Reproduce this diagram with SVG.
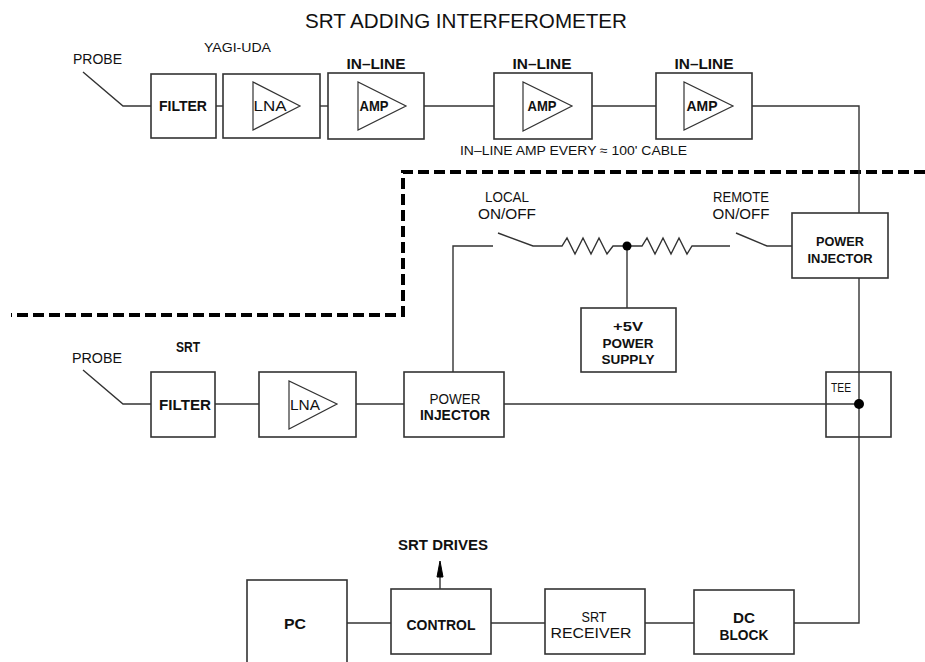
<svg xmlns="http://www.w3.org/2000/svg" width="925" height="662" viewBox="0 0 925 662">
<defs>
<style>
.box{fill:#fff;stroke:#333;stroke-width:1.6}
.ln{fill:none;stroke:#333;stroke-width:1.4}
.tri{fill:none;stroke:#333;stroke-width:1.2}
.t{font-family:"Liberation Sans",Arial,sans-serif;fill:#111}
.b{font-weight:bold}
.c{text-anchor:middle}
.dash{fill:none;stroke:#000;stroke-width:4;stroke-dasharray:11 5}
</style>
</defs>
<rect width="925" height="662" fill="#fff"/>
<g font-size="14">
<text class="t c" x="466" y="28" font-size="20" textLength="322" lengthAdjust="spacingAndGlyphs">SRT ADDING INTERFEROMETER</text>

<g id="dashed-boundary">
<path class="dash" d="M925,172 H403 V315 H11"/>
</g>

<g id="connectors">
<path class="ln" d="M83,72 L123,106 H151"/>
<path class="ln" d="M216,106 H223"/>
<path class="ln" d="M320,106 H328"/>
<path class="ln" d="M424,106 H494"/>
<path class="ln" d="M592,106 H656"/>
<path class="ln" d="M752,106 H859 V213"/>
<path class="ln" d="M859,278 V623 H794"/>
<path class="ln" d="M83,370 L123,404 H151"/>
<path class="ln" d="M215,404 H259"/>
<path class="ln" d="M356,404 H404"/>
<path class="ln" d="M504,404 H859"/>
<path class="ln" d="M453,372 V246 H493"/>
<path class="ln" d="M498,233 L533,246 H562 L567,238 L575,254 L583,238 L591,254 L599,238 L607,254 L613,246 H642 L647,238 L655,254 L663,238 L671,254 L679,238 L687,254 L692,246 H730"/>
<path class="ln" d="M736,233 L767,246 H792"/>
<path class="ln" d="M627,246 V308"/>
<circle cx="627" cy="246" r="4.5" fill="#000"/>
<circle cx="859" cy="404" r="5" fill="#000"/>
<path class="ln" d="M347,623 H391"/>
<path class="ln" d="M491,623 H545"/>
<path class="ln" d="M645,623 H694"/>
<path class="ln" d="M440,589 V575"/>
<path d="M440,561 L443,577 L437,577 Z" fill="#000" stroke="#000" stroke-width="1"/>
</g>

<g id="top-probe"><text class="t" x="73" y="64" textLength="49" lengthAdjust="spacingAndGlyphs">PROBE</text></g>
<g id="yagi-label"><text class="t" x="204" y="52" font-size="12.5" textLength="67" lengthAdjust="spacingAndGlyphs">YAGI-UDA</text></g>

<g id="top-filter"><rect class="box" x="151" y="74" width="65" height="64"/><text class="t b c" x="183" y="111" font-size="15" textLength="48" lengthAdjust="spacingAndGlyphs">FILTER</text></g>
<g id="top-lna"><rect class="box" x="223" y="74" width="97" height="64"/><path class="tri" d="M253,82 V130 L300,106 Z"/><text class="t c" x="270" y="111" font-size="15" textLength="33" lengthAdjust="spacingAndGlyphs">LNA</text></g>
<g id="amp1"><text class="t b c" x="376" y="69" font-size="15" textLength="59" lengthAdjust="spacingAndGlyphs">IN–LINE</text><rect class="box" x="328" y="73" width="96" height="66"/><path class="tri" d="M358,82 V130 L406,106 Z"/><text class="t b c" x="374" y="111" font-size="15" textLength="29" lengthAdjust="spacingAndGlyphs">AMP</text></g>
<g id="amp2"><text class="t b c" x="542" y="69" font-size="15" textLength="59" lengthAdjust="spacingAndGlyphs">IN–LINE</text><rect class="box" x="494" y="73" width="98" height="66"/><path class="tri" d="M523,82 V131 L572,106 Z"/><text class="t b c" x="542" y="111" font-size="15" textLength="29" lengthAdjust="spacingAndGlyphs">AMP</text></g>
<g id="amp3"><text class="t b c" x="704" y="69" font-size="15" textLength="59" lengthAdjust="spacingAndGlyphs">IN–LINE</text><rect class="box" x="656" y="73" width="96" height="66"/><path class="tri" d="M684,82 V130 L733,106 Z"/><text class="t b c" x="702" y="111" font-size="15" textLength="31" lengthAdjust="spacingAndGlyphs">AMP</text></g>
<g id="note"><text class="t" x="460" y="155" font-size="12.5" textLength="227" lengthAdjust="spacingAndGlyphs">IN–LINE  AMP  EVERY ≈ 100'  CABLE</text></g>

<g id="local-switch"><text class="t c" x="507" y="202" textLength="44" lengthAdjust="spacingAndGlyphs">LOCAL</text><text class="t c" x="507" y="219" textLength="58" lengthAdjust="spacingAndGlyphs">ON/OFF</text></g>
<g id="remote-switch"><text class="t c" x="741" y="202" textLength="56" lengthAdjust="spacingAndGlyphs">REMOTE</text><text class="t c" x="741" y="219" textLength="57" lengthAdjust="spacingAndGlyphs">ON/OFF</text></g>

<g id="top-power-injector"><rect class="box" x="792" y="213" width="96" height="65"/><text class="t b c" x="840" y="246" font-size="13" textLength="48" lengthAdjust="spacingAndGlyphs">POWER</text><text class="t b c" x="840" y="263" font-size="13" textLength="65" lengthAdjust="spacingAndGlyphs">INJECTOR</text></g>

<g id="power-supply"><rect class="box" x="581" y="308" width="95" height="64"/><text class="t b c" x="628" y="331" font-size="13" textLength="30" lengthAdjust="spacingAndGlyphs">+5V</text><text class="t b c" x="628" y="348" font-size="13" textLength="51" lengthAdjust="spacingAndGlyphs">POWER</text><text class="t b c" x="628" y="364" font-size="13" textLength="53" lengthAdjust="spacingAndGlyphs">SUPPLY</text></g>

<g id="srt-probe"><text class="t" x="72" y="363" textLength="50" lengthAdjust="spacingAndGlyphs">PROBE</text></g>
<g id="srt-label"><text class="t b" x="176" y="352" textLength="24" lengthAdjust="spacingAndGlyphs">SRT</text></g>
<g id="srt-filter"><rect class="box" x="151" y="372" width="64" height="65"/><text class="t b c" x="185" y="410" font-size="15" textLength="52" lengthAdjust="spacingAndGlyphs">FILTER</text></g>
<g id="srt-lna"><rect class="box" x="259" y="372" width="97" height="65"/><path class="tri" d="M289,381 V429 L337,404 Z"/><text class="t c" x="305" y="410" font-size="15" textLength="30" lengthAdjust="spacingAndGlyphs">LNA</text></g>
<g id="srt-power-injector"><rect class="box" x="404" y="372" width="100" height="65"/><text class="t c" x="455" y="404" font-size="15" textLength="51" lengthAdjust="spacingAndGlyphs">POWER</text><text class="t b c" x="455" y="420" font-size="15" textLength="70" lengthAdjust="spacingAndGlyphs">INJECTOR</text></g>
<g id="tee"><rect class="box" x="826" y="372" width="65" height="65" style="fill:none"/><text class="t" x="831" y="392" font-size="12" textLength="20" lengthAdjust="spacingAndGlyphs">TEE</text></g>

<g id="srt-drives"><text class="t b c" x="443" y="550" textLength="90" lengthAdjust="spacingAndGlyphs">SRT  DRIVES</text></g>
<g id="pc"><rect class="box" x="247" y="580" width="100" height="90"/><text class="t b c" x="295" y="629" font-size="15" textLength="22" lengthAdjust="spacingAndGlyphs">PC</text></g>
<g id="control"><rect class="box" x="391" y="589" width="100" height="65"/><text class="t b c" x="441" y="630" font-size="15" textLength="69" lengthAdjust="spacingAndGlyphs">CONTROL</text></g>
<g id="receiver"><rect class="box" x="545" y="589" width="100" height="65"/><text class="t c" x="594" y="622" textLength="25" lengthAdjust="spacingAndGlyphs">SRT</text><text class="t c" x="591" y="638" textLength="81" lengthAdjust="spacingAndGlyphs">RECEIVER</text></g>
<g id="dc-block"><rect class="box" x="694" y="590" width="100" height="64"/><text class="t b c" x="744" y="623" textLength="22" lengthAdjust="spacingAndGlyphs">DC</text><text class="t b c" x="744" y="640" textLength="49" lengthAdjust="spacingAndGlyphs">BLOCK</text></g>
</g>
</svg>
